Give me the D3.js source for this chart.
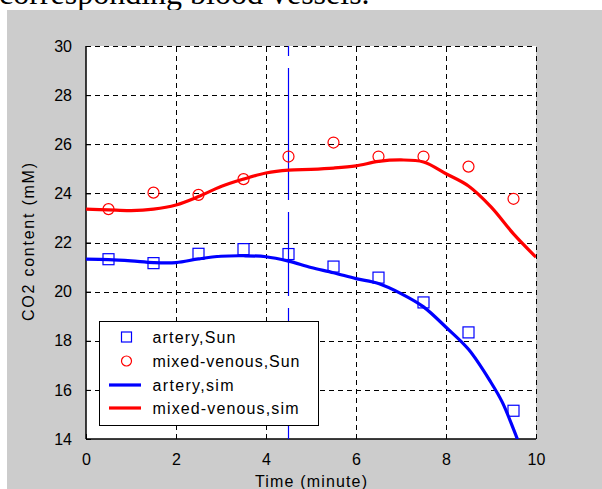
<!DOCTYPE html>
<html>
<head>
<meta charset="utf-8">
<script src="https://cdn.jsdelivr.net/npm/d3@7"></script>
<style>
  body { margin: 0; background: #fff; }
  svg { display: block; }
  text { font-family: "Liberation Sans", Arial, sans-serif; fill: #000; }
</style>
</head>
<body>
<div id="chart"></div>
<script>
// measured points (Sun) at half minutes
const sampleTimes = [0.5, 1.5, 2.5, 3.5, 4.5, 5.5, 6.5, 7.5, 8.5, 9.5];
const arterySun = [21.32, 21.16, 21.54, 21.73, 21.53, 21.02, 20.57, 19.56, 18.34, 15.15];
const venousSun = [23.36, 24.03, 23.94, 24.58, 25.5, 26.07, 25.5, 25.5, 25.09, 23.78];

// simulated curves
const simTimesArtery = [0, 0.5, 1, 1.5, 2, 2.5, 3, 3.5, 4, 4.5, 5, 5.5, 6, 6.5, 7, 7.5, 8, 8.5, 9, 9.25, 9.5, 9.75];
const arterySim = [21.32, 21.3, 21.25, 21.18, 21.18, 21.33, 21.44, 21.46, 21.42, 21.24, 20.98, 20.77, 20.53, 20.33, 19.92, 19.38, 18.55, 17.65, 16.3, 15.5, 14.4, 13.2];
const simTimesVenous = [0, 0.5, 1, 1.5, 2, 2.5, 3, 3.5, 4, 4.5, 5, 5.5, 6, 6.5, 7, 7.5, 8, 8.5, 9, 9.5, 10];
const venousSim = [23.36, 23.33, 23.3, 23.36, 23.53, 23.87, 24.28, 24.58, 24.83, 24.95, 24.98, 25.03, 25.12, 25.3, 25.36, 25.28, 24.8, 24.3, 23.45, 22.35, 21.4];

const xTicks = [0, 2, 4, 6, 8, 10];
const yTicks = [14, 16, 18, 20, 22, 24, 26, 28, 30];
const markerTime = 4.5;

const legendLabels = ["artery,Sun", "mixed-venous,Sun", "artery,sim", "mixed-venous,sim"];
const legendWidths = [83, 147, 81, 146];

const width = 602, height = 489;
const blue = "#0000ff", red = "#ff0000";

const svg = d3.select("#chart").append("svg")
  .attr("width", width)
  .attr("height", height);

// caption text cut off above the figure
svg.append("text")
  .attr("x", -1).attr("y", 4)
  .style("font-family", "'Liberation Serif', 'Times New Roman', serif")
  .style("font-size", "32px")
  .text("corresponding blood vessels.");

// grey figure background
svg.append("rect")
  .attr("x", 7).attr("y", 10)
  .attr("width", width - 7).attr("height", height - 10)
  .attr("fill", "#cccccc");

const x = d3.scaleLinear().domain([0, 10]).range([86, 536]);
const y = d3.scaleLinear().domain([14, 30]).range([439, 46]);

svg.append("rect")
  .attr("x", x(0)).attr("y", y(30))
  .attr("width", x(10) - x(0)).attr("height", y(14) - y(30))
  .attr("fill", "#fff");

svg.append("clipPath").attr("id", "clip")
  .append("rect")
  .attr("x", x(0)).attr("y", y(30))
  .attr("width", x(10) - x(0)).attr("height", y(14) - y(30));

// dashed grid
const grid = svg.append("g").attr("stroke", "#000").attr("stroke-width", 1)
  .attr("stroke-dasharray", "5,4").attr("shape-rendering", "crispEdges");
grid.selectAll(".gy").data(yTicks.filter(d => d > 14)).enter().append("line")
  .attr("x1", x(0)).attr("x2", x(10))
  .attr("y1", d => Math.round(y(d)) + 0.5).attr("y2", d => Math.round(y(d)) + 0.5);
grid.selectAll(".gx").data(xTicks.filter(d => d > 0)).enter().append("line")
  .attr("y1", y(14)).attr("y2", y(30))
  .attr("x1", d => Math.round(x(d)) + 0.5).attr("x2", d => Math.round(x(d)) + 0.5);

// axes (left + bottom, inward ticks)
const yAxis = svg.append("g")
  .attr("transform", `translate(${x(0)},0)`)
  .call(d3.axisLeft(y).tickValues(yTicks).tickSize(-5).tickPadding(14));
const xAxis = svg.append("g")
  .attr("transform", `translate(0,${y(14)})`)
  .call(d3.axisBottom(x).tickValues(xTicks).tickSize(-5).tickPadding(15));
[yAxis, xAxis].forEach(a => {
  a.select(".domain").attr("stroke", "#000").attr("stroke-width", 1.5);
  a.selectAll(".tick line").attr("stroke", "#000");
  a.selectAll(".tick text").style("font-size", "16px")
    .style("font-family", "'Liberation Sans', Arial, sans-serif");
});
yAxis.select(".domain").attr("d", `M0,${y(30)}V${y(14)}`);
xAxis.select(".domain").attr("d", `M${x(0)},0H${x(10)}`);

// axis titles
svg.append("text")
  .attr("transform", `translate(34,${(y(14) + y(30)) / 2 - 0.5}) rotate(-90)`)
  .attr("text-anchor", "middle")
  .attr("textLength", 158).attr("lengthAdjust", "spacing")
  .style("font-size", "16px")
  .text("CO2 content (mM)");
svg.append("text")
  .attr("x", (x(0) + x(10)) / 2).attr("y", 487)
  .attr("text-anchor", "middle")
  .attr("textLength", 112).attr("lengthAdjust", "spacing")
  .style("font-size", "16px")
  .text("Time (minute)");

const plot = svg.append("g").attr("clip-path", "url(#clip)");

// vertical marker line
plot.append("line")
  .attr("x1", x(markerTime)).attr("x2", x(markerTime))
  .attr("y1", y(30)).attr("y2", y(14))
  .attr("stroke", blue).attr("stroke-width", 1.2)
  .attr("stroke-dasharray", "10,12,132,12,84,12,200");

const line = d3.line().curve(d3.curveCatmullRom)
  .x(d => x(d[0])).y(d => y(d[1]));

plot.append("path")
  .datum(simTimesVenous.map((t, i) => [t, venousSim[i]]))
  .attr("d", line).attr("fill", "none")
  .attr("stroke", red).attr("stroke-width", 3.2);
plot.append("path")
  .datum(simTimesArtery.map((t, i) => [t, arterySim[i]]))
  .attr("d", line).attr("fill", "none")
  .attr("stroke", blue).attr("stroke-width", 3.2);

// data markers
plot.selectAll(".sq").data(sampleTimes).enter().append("rect")
  .attr("x", d => x(d) - 5.5)
  .attr("y", (d, i) => y(arterySun[i]) - 5.5)
  .attr("width", 11).attr("height", 11)
  .attr("fill", "none").attr("stroke", blue).attr("stroke-width", 1.2);
plot.selectAll(".ci").data(sampleTimes).enter().append("circle")
  .attr("cx", d => x(d))
  .attr("cy", (d, i) => y(venousSun[i]))
  .attr("r", 5.5)
  .attr("fill", "none").attr("stroke", red).attr("stroke-width", 1.2);

// legend
const lg = svg.append("g");
lg.append("rect")
  .attr("x", 99.5).attr("y", 321.5).attr("width", 219).attr("height", 104)
  .attr("fill", "#fff").attr("stroke", "#000").attr("stroke-width", 1);
const rowY = [337, 361, 385, 408];
lg.append("rect").attr("x", 121.5).attr("y", rowY[0] - 5).attr("width", 10).attr("height", 10)
  .attr("fill", "none").attr("stroke", blue).attr("stroke-width", 1.2);
lg.append("circle").attr("cx", 126.5).attr("cy", rowY[1]).attr("r", 5)
  .attr("fill", "none").attr("stroke", red).attr("stroke-width", 1.2);
lg.append("line").attr("x1", 109).attr("x2", 141).attr("y1", rowY[2]).attr("y2", rowY[2])
  .attr("stroke", blue).attr("stroke-width", 3.2);
lg.append("line").attr("x1", 109).attr("x2", 141).attr("y1", rowY[3]).attr("y2", rowY[3])
  .attr("stroke", red).attr("stroke-width", 3.2);
lg.selectAll(".lt").data(legendLabels).enter().append("text")
  .attr("x", 152.5).attr("y", (d, i) => rowY[i] + 6)
  .attr("textLength", (d, i) => legendWidths[i]).attr("lengthAdjust", "spacing")
  .style("font-size", "16px")
  .text(d => d);
</script>
</body>
</html>
